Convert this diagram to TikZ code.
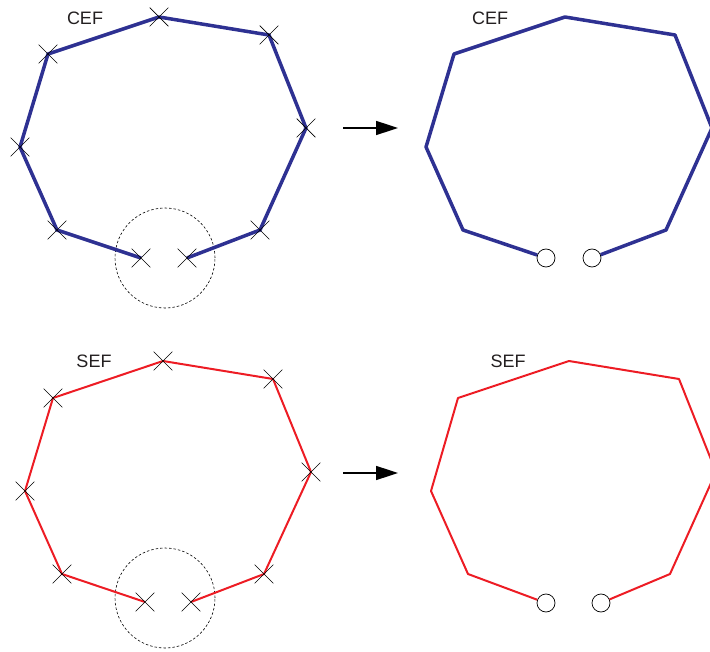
\documentclass[tikz,border=0pt]{standalone}
\usepackage{fontspec}
\setmainfont{Liberation Sans}
\usetikzlibrary{arrows.meta,shapes.misc}
\definecolor{cefblue}{RGB}{46,49,146}
\definecolor{sefred}{RGB}{237,28,36}
\definecolor{txtgray}{RGB}{35,31,32}
\tikzset{
  cefline/.style={draw=cefblue,line width=3.5pt,line join=round},
  sefline/.style={draw=sefred,line width=2pt,line join=round},
  xmark/.style={draw=black,shape=cross out,minimum size=18pt,inner sep=0pt,line width=0.7pt},
  endring/.style={draw=black,fill=white,circle,minimum size=18pt,inner sep=0pt,line width=0.7pt},
  zone/.style={draw=black,dashed,dash pattern=on 2.5pt off 2pt,line width=0.6pt},
  lbl/.style={text=txtgray,font=\fontsize{18}{20}\selectfont,inner sep=0pt},
  stepto/.style={draw=black,line width=1.6pt,-{Triangle[length=22pt,width=14pt]}}
}
\begin{document}
\begin{tikzpicture}[x=1pt,y=-1pt]
\useasboundingbox (0,0) rectangle (710,652);
% ---------- top left (CEF, marked) ----------
\coordinate (a1) at (141,258);
\coordinate (a2) at (57,230);
\coordinate (a3) at (20,147);
\coordinate (a4) at (48,54);
\coordinate (a5) at (159,17);
\coordinate (a6) at (269,35);
\coordinate (a7) at (306,128);
\coordinate (a8) at (260,230);
\coordinate (a9) at (187,258);
\node[zone,circle,minimum size=100pt,inner sep=0pt] (az) at (165,258) {};
\draw[cefline] (a1) -- (a2) -- (a3) -- (a4) -- (a5) -- (a6) -- (a7) -- (a8) -- (a9);
\foreach \i in {1,...,9} { \node[xmark] (ax\i) at (a\i) {}; }
\node[lbl] (acef) at (85,18) {CEF};
% ---------- top right (CEF, result) ----------
\coordinate (b2) at (463,230);
\coordinate (b3) at (426,147);
\coordinate (b4) at (454,54);
\coordinate (b5) at (565,17);
\coordinate (b6) at (675,35);
\coordinate (b7) at (712,128);
\coordinate (b8) at (666,230);
\node[endring] (b1) at (546,258) {};
\node[endring] (b9) at (592,258) {};
\draw[cefline] (b1) -- (b2) -- (b3) -- (b4) -- (b5) -- (b6) -- (b7) -- (b8) -- (b9);
\node[lbl] (bcef) at (490,18) {CEF};
\coordinate (ar1s) at (343,128);
\coordinate (ar1e) at (398,128);
\draw[stepto] (ar1s) -- (ar1e);
% ---------- bottom left (SEF, marked) ----------
\coordinate (c1) at (145,602);
\coordinate (c2) at (62,574);
\coordinate (c3) at (25,491);
\coordinate (c4) at (53,398);
\coordinate (c5) at (163,361);
\coordinate (c6) at (273,379);
\coordinate (c7) at (311,472);
\coordinate (c8) at (264,574);
\coordinate (c9) at (191,602);
\node[zone,circle,minimum size=100pt,inner sep=0pt] (cz) at (165,598) {};
\draw[sefline] (c1) -- (c2) -- (c3) -- (c4) -- (c5) -- (c6) -- (c7) -- (c8) -- (c9);
\foreach \i in {1,...,9} { \node[xmark] (cx\i) at (c\i) {}; }
\node[lbl] (csef) at (94,361) {SEF};
% ---------- bottom right (SEF, result) ----------
\coordinate (d2) at (468,574);
\coordinate (d3) at (431,491);
\coordinate (d4) at (458,398);
\coordinate (d5) at (569,361);
\coordinate (d6) at (679,379);
\coordinate (d7) at (716,472);
\coordinate (d8) at (670,574);
\node[endring] (d1) at (546,603) {};
\node[endring] (d9) at (601,603) {};
\draw[sefline] (d1) -- (d2) -- (d3) -- (d4) -- (d5) -- (d6) -- (d7) -- (d8) -- (d9);
\node[lbl] (dsef) at (508,361) {SEF};
\coordinate (ar2s) at (343,473);
\coordinate (ar2e) at (398,473);
\draw[stepto] (ar2s) -- (ar2e);
\end{tikzpicture}
\end{document}
